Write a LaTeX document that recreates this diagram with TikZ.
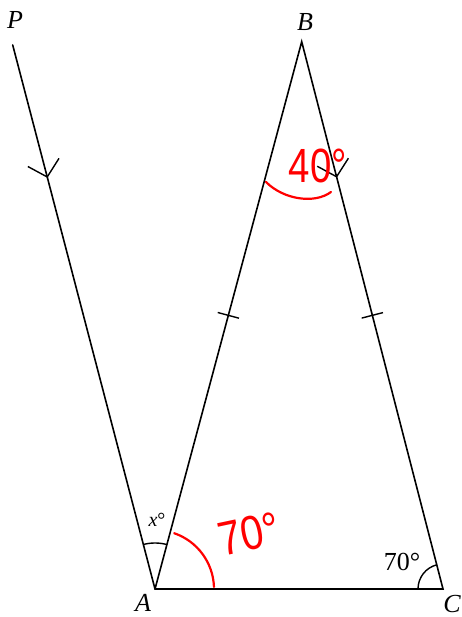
\documentclass[tikz,border=0pt]{standalone}
\usepackage{fontspec}
\setmainfont{Liberation Serif}
\newfontfamily\handfont{Liberation Sans}
\usetikzlibrary{calc}
\begin{document}
\begin{tikzpicture}[x=1pt,y=1pt,
  seg/.style={line width=1.6pt, line cap=round},
  mk/.style={line width=1.4pt},
  lbl/.style={font=\fontsize{26}{26}\selectfont\itshape, inner sep=0pt},
  num/.style={font=\fontsize{26}{26}\selectfont, inner sep=0pt},
  redmark/.style={red, line width=2.2pt, line cap=round},
  redtxt/.style={red, inner sep=0pt, font=\fontsize{48}{48}\selectfont\handfont}]
\useasboundingbox (0,0) rectangle (462,617);
\coordinate (A) at (155,28);
\coordinate (B) at (301.7,575.3);
\coordinate (C) at (443,28);
\coordinate (P) at (12.7,572);
% main lines
\draw[seg] (P) -- (A) -- (C) -- (B) -- (A);
% labels
\node[lbl] (lP) at (15,597) {P};
\node[lbl] (lB) at (305,595) {B};
\node[lbl] (lA) at (143,14) {A};
\node[lbl] (lC) at (452,13) {C};
% parallel arrows
\coordinate (m1) at ($(P)!0.2426!(A)$);
\draw[mk] ($(m1)!22pt!47:(P)$) -- (m1) -- ($(m1)!22pt!-47:(P)$);
\coordinate (m2) at ($(B)!0.2468!(C)$);
\draw[mk] ($(m2)!22pt!47:(B)$) -- (m2) -- ($(m2)!22pt!-47:(B)$);
% equal ticks
\coordinate (t1) at ($(A)!0.5!(B)$);
\draw[mk] ($(t1)!11pt!90:(B)$) -- ($(t1)!11pt!-90:(B)$);
\coordinate (t2) at ($(C)!0.5!(B)$);
\draw[mk] ($(t2)!11pt!90:(B)$) -- ($(t2)!11pt!-90:(B)$);
% angle x at A
\draw[mk] (A) ++(75:46) arc (75:104.66:46);
\node[font=\fontsize{20}{20}\selectfont, inner sep=0pt] (lx) at (157,97) {\textit{x}°};
% angle 70 at C
\draw[mk] (C) ++(104.45:25) arc (104.45:180:25);
\node[num] (l70) at (402,55) {70°};
% red annotations
\draw[redmark] (A) ++(2:59) arc (2:71:59);
\node[redtxt, rotate=12, xscale=0.85] (r70) at (249,83) {70°};
\draw[redmark] (266,435) .. controls (284,417) and (315,413) .. (331,425);
\node[redtxt, xscale=0.8] (r40) at (318,451) {40°};
\end{tikzpicture}
\end{document}
